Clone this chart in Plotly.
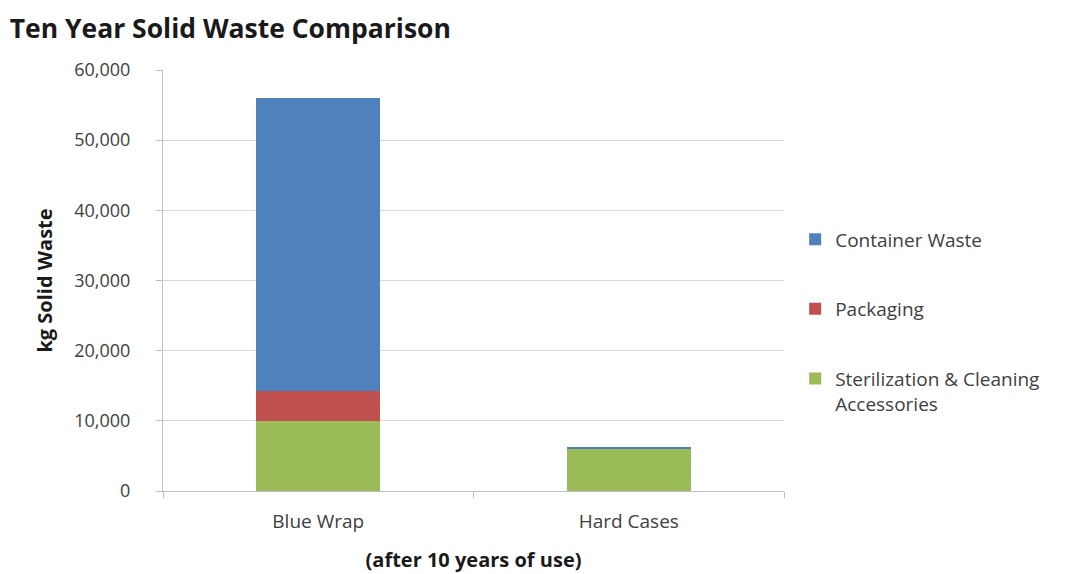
import plotly.graph_objects as go

categories = ["Blue Wrap", "Hard Cases"]
sterilization = [10000, 6000]
packaging = [4200, 40]
container = [41800, 160]
y_ticks = [0, 10000, 20000, 30000, 40000, 50000, 60000]
y_tick_labels = ["0", "10,000", "20,000", "30,000", "40,000", "50,000", "60,000"]

font = "Open Sans, Liberation Sans, sans-serif"

fig = go.Figure()
fig.add_trace(go.Bar(x=categories, y=sterilization, name="Sterilization & Cleaning<br>Accessories",
                     marker=dict(color="#9BBB59", line=dict(width=0)), legendgroup="c", legendrank=3))
fig.add_trace(go.Bar(x=categories, y=packaging, name="Packaging",
                     marker=dict(color="#C0504D", line=dict(width=0)), legendgroup="b", legendrank=2))
fig.add_trace(go.Bar(x=categories, y=container, name="Container Waste",
                     marker=dict(color="#4F81BD", line=dict(width=0)), legendgroup="a", legendrank=1))

fig.update_layout(
    barmode="stack",
    bargap=0.6,
    width=1072, height=574,
    margin=dict(l=163, r=288, t=70, b=83),
    paper_bgcolor="white", plot_bgcolor="white",
    font=dict(family=font, color="#404040", size=17),
    title=dict(text="<b>Ten Year Solid Waste Comparison</b>", x=0.009, xanchor="left",
               y=0.95, yanchor="middle", font=dict(size=26.5, color="#1a1a1a")),
    legend=dict(x=1.018, xanchor="left", y=0.643, yanchor="top", traceorder="grouped",
                valign="top", tracegroupgap=42, font=dict(size=19, color="#404040"),
                itemwidth=30, bgcolor="rgba(0,0,0,0)"),
    showlegend=True,
)
fig.update_yaxes(range=[0, 60000], tickvals=y_ticks, ticktext=y_tick_labels,
                 showgrid=True, gridcolor="#D9D9D9", gridwidth=1,
                 showline=True, linecolor="#BFBFBF", linewidth=1,
                 ticks="outside", ticklen=6, tickcolor="#BFBFBF",
                 ticklabelstandoff=22, zeroline=False, tickfont=dict(size=18),
                 automargin=False,
                 title=dict(text="<b>kg Solid Waste</b>", font=dict(size=20, color="#1a1a1a"), standoff=16))
fig.update_xaxes(showline=True, linecolor="#BFBFBF", linewidth=1,
                 ticks="outside", ticklen=6, tickcolor="#BFBFBF", tickson="boundaries",
                 ticklabelstandoff=13, tickfont=dict(size=19), automargin=False,
                 title=dict(text="<b>(after 10 years of use)</b>", font=dict(size=20, color="#1a1a1a"), standoff=20))

fig.write_html("out.html")
